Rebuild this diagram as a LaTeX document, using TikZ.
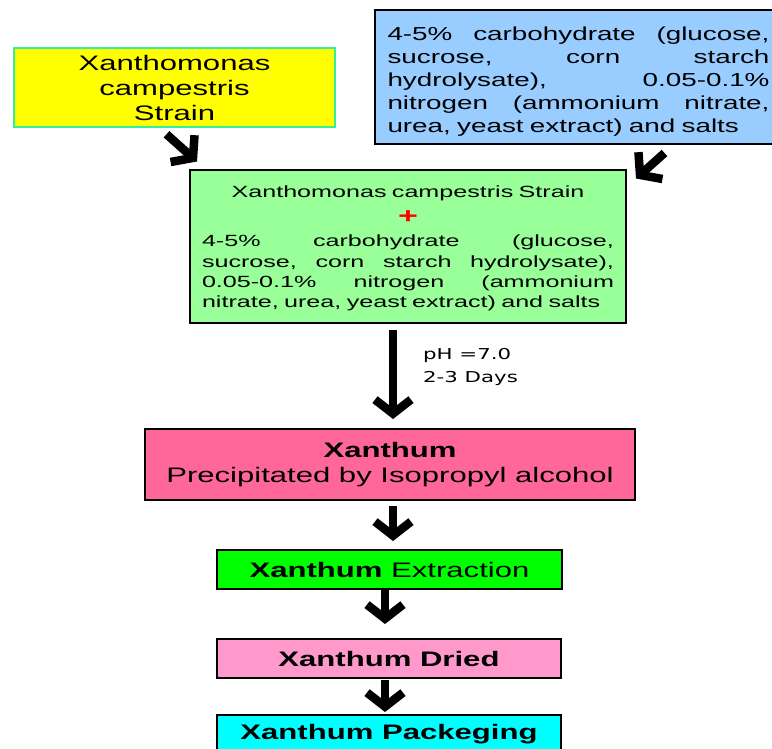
\documentclass[tikz,border=0pt]{standalone}
\usepackage{fontspec}
\setmainfont{Liberation Sans}[FakeStretch=1.48]
\newfontfamily\gfont{Liberation Sans}[FakeStretch=1.55]
\newfontfamily\phfont{DejaVu Sans}[FakeStretch=1.42]
\usetikzlibrary{arrows.meta,calc}
\newcommand\jline[2]{\leavevmode\hbox to #1{#2}}
\definecolor{yfill}{HTML}{FFFF00}
\definecolor{yline}{HTML}{33F099}
\definecolor{bfill}{HTML}{99CCFF}
\definecolor{gfill}{HTML}{99FF99}
\definecolor{pfill}{HTML}{FF6699}
\definecolor{efill}{HTML}{00FF00}
\definecolor{dfill}{HTML}{FF99CC}
\definecolor{kfill}{HTML}{00FFFF}
\tikzset{
  box/.style={draw=black, line width=2pt, inner sep=0pt, anchor=center},
  bigarrow/.style={line width=8.5pt, -{Straight Barb[length=14pt, width=36pt]}},
}
\begin{document}
\begin{tikzpicture}[x=1pt,y=-1pt]
\useasboundingbox (0,0) rectangle (772,748);
\clip (0,0) rectangle (772,748);
% yellow
\node[box, draw=yline, line width=2.5pt, fill=yfill, minimum width=321pt, minimum height=79pt, align=center,
  font=\fontsize{21pt}{25pt}\selectfont] (strain) at (174.5,87.5) {Xanthomonas\\campestris\\Strain};
% blue
\node[box, fill=bfill, minimum width=407pt, minimum height=134pt, text width=382pt, align=left,
  font=\fontsize{18.8pt}{23pt}\selectfont] (medium) at (578.5,77) {%
\jline{382pt}{\rule{0pt}{22pt}4-5\%\hfill carbohydrate\hfill (glucose,}\\
\jline{382pt}{sucrose,\hfill corn\hfill starch}\\
\jline{382pt}{hydrolysate),\hfill 0.05-0.1\%}\\
\jline{382pt}{nitrogen\hfill (ammonium\hfill nitrate,}\\
urea, yeast extract) and salts};
% green
\node[box, fill=gfill, minimum width=436pt, minimum height=153pt, text width=412pt, align=center,
  font=\gfont\fontsize{16.2pt}{20.3pt}\selectfont] (mix) at (408,246) {%
\rule{0pt}{17pt}Xanthomonas campestris Strain\\[5.7pt]
{\color{red}\bfseries\fontsize{22pt}{20pt}\selectfont +}\\[2.7pt]
\jline{412pt}{4-5\%\hfill carbohydrate\hfill (glucose,}\\
\jline{412pt}{sucrose,\hfill corn\hfill starch\hfill hydrolysate),}\\
\jline{412pt}{0.05-0.1\%\hfill nitrogen\hfill (ammonium}\\
\jline{412pt}{nitrate, urea, yeast extract) and salts\hfill}};
% pink
\node[box, fill=pfill, minimum width=490pt, minimum height=71pt, align=center,
  font=\fontsize{21pt}{25pt}\selectfont] (precip) at (390,464.5) {\textbf{Xanthum}\\Precipitated by Isopropyl alcohol};
\node[box, fill=efill, minimum width=345pt, minimum height=39pt,
  font=\fontsize{21pt}{25pt}\selectfont] (extract) at (389.5,569.5) {\textbf{Xanthum} Extraction};
\node[box, fill=dfill, minimum width=344pt, minimum height=39pt,
  font=\bfseries\fontsize{21pt}{25pt}\selectfont] (dried) at (389,658.5) {Xanthum Dried};
\node[box, fill=kfill, minimum width=344pt, minimum height=39pt,
  font=\bfseries\fontsize{21pt}{25pt}\selectfont] (pack) at (389,734.5) {Xanthum Packeging};
% label
\node[anchor=west, align=left, inner sep=0pt, font=\phfont\fontsize{15pt}{23pt}\selectfont] (cond) at (423,366.5) {pH =7.0\\2-3 Days};
% arrows
\draw[bigarrow] ($(strain.south)+(-8,6)$) -- ($(mix.north west)+(8,-7)$);
\draw[bigarrow] ($(medium.south)+(86,8)$) -- ($(mix.north east)+(9,10)$);
\draw[bigarrow] ($(mix.south)+(-15,6)$) -- ($(precip.north)+(3,-9)$);
\draw[bigarrow] ($(precip.south)+(3,5)$) -- ($(extract.north)+(3.5,-8)$);
\draw[bigarrow] ($(extract.south)+(-4.5,0)$) -- ($(dried.north)+(-4,-14)$);
\draw[bigarrow] ($(dried.south)+(-4,1)$) -- ($(pack.north)+(-4,-2)$);
\end{tikzpicture}
\end{document}
